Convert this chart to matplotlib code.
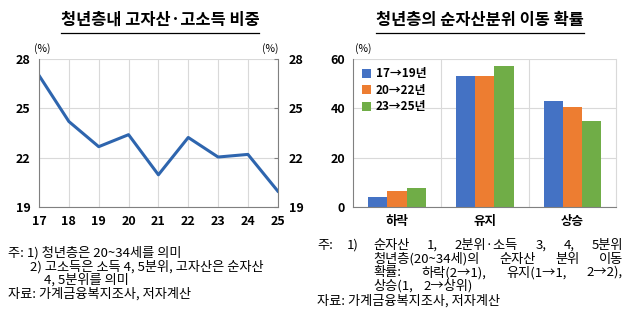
import matplotlib.pyplot as plt
from matplotlib.lines import Line2D

plt.rcParams['font.family'] = ['Noto Sans CJK KR', 'DejaVu Sans']

# left chart data
years = ['17', '18', '19', '20', '21', '22', '23', '24', '25']
share = [27.0, 24.2, 22.67, 23.4, 20.96, 23.23, 22.04, 22.2, 19.97]

# right chart data
moves = ['하락', '유지', '상승']
periods = ['17→19년', '20→22년', '23→25년']
prob_1719 = [4.1, 53.2, 43.0]
prob_2022 = [6.4, 53.1, 40.6]
prob_2325 = [7.9, 57.0, 35.0]
bar_colors = ['#4472C4', '#ED7D31', '#70AD47']

W, H = 640, 319
fig = plt.figure(figsize=(W / 100, H / 100), dpi=100)

grid_c = '#D9D9D9'
spine_c = '#808080'

# ---- left: line chart
ax1 = fig.add_axes([0.061, 0.351, 0.373, 0.464])
x = list(range(len(years)))
ax1.plot(x, share, color='#2E65AE', lw=2.2)
ax1.set_xlim(0, len(years) - 1)
ax1.set_ylim(19, 28)
ax1.set_yticks([19, 22, 25, 28])
ax1.set_xticks(x)
ax1.set_xticklabels(years, fontweight='bold', fontsize=9)
ax1.grid(True, color=grid_c, lw=0.8)
ax1.tick_params(axis='both', length=0, pad=6)
ax1.tick_params(axis='y', labelsize=9)
for lab in ax1.get_yticklabels():
    lab.set_fontweight('bold')
ax1.spines['top'].set_visible(False)
for s in ['left', 'right', 'bottom']:
    ax1.spines[s].set_color(spine_c)
ax1r = ax1.twinx()
ax1r.set_ylim(19, 28)
ax1r.set_yticks([19, 22, 25, 28])
ax1r.tick_params(axis='y', length=3, direction='in', color=spine_c, labelsize=9, pad=8)
for lab in ax1r.get_yticklabels():
    lab.set_fontweight('bold')
for s in ax1r.spines.values():
    s.set_visible(False)
fig.text(0.066, 0.836, '(%)', fontsize=7.5, ha='center')
fig.text(0.422, 0.836, '(%)', fontsize=7.5, ha='center')

# ---- right: grouped bars
ax2 = fig.add_axes([0.552, 0.351, 0.411, 0.464])
w = 0.22
xs = list(range(len(moves)))
for i, (vals, lab) in enumerate(zip([prob_1719, prob_2022, prob_2325], periods)):
    ax2.bar([p + (i - 1) * w for p in xs], vals, width=w, color=bar_colors[i], label=lab)
ax2.set_xlim(-0.5, 2.5)
ax2.set_ylim(0, 60)
ax2.set_yticks([0, 20, 40, 60])
ax2.set_xticks(xs)
ax2.set_xticklabels(moves, fontweight='bold', fontsize=9)
ax2.set_xticks([0.5, 1.5], minor=True)
ax2.grid(True, axis='y', color=grid_c, lw=0.8)
ax2.grid(True, axis='x', which='minor', color=grid_c, lw=0.8)
ax2.set_axisbelow(True)
ax2.tick_params(axis='both', which='both', length=0, pad=6)
ax2.tick_params(axis='y', labelsize=9)
for lab in ax2.get_yticklabels():
    lab.set_fontweight('bold')
ax2.spines['top'].set_visible(False)
ax2.spines['right'].set_color(grid_c)
for s in ['left', 'bottom']:
    ax2.spines[s].set_color(spine_c)
ax2.legend(loc='upper left', frameon=False, handlelength=0.8,
           handleheight=0.8, handletextpad=0.4, labelspacing=0.3,
           borderaxespad=0.3, prop={'weight': 'bold', 'size': 8.5})
fig.text(0.567, 0.836, '(%)', fontsize=7.5, ha='center')

renderer = fig.canvas.get_renderer()


# ---- titles with underline
def underlined_title(xc, y, s):
    t = fig.text(xc, y, s, ha='center', va='baseline', fontsize=11.8, fontweight='bold')
    bb = t.get_window_extent(renderer).transformed(fig.transFigure.inverted())
    fig.add_artist(Line2D([bb.x0, bb.x1], [y - 0.024, y - 0.024],
                          transform=fig.transFigure, color='black', lw=0.9))


underlined_title(0.25, 0.922, '청년층내 고자산·고소득 비중')
underlined_title(0.75, 0.922, '청년층의 순자산분위 이동 확률')

# ---- notes (pixel positions; right block is spread across the line like the source)
fs = 9.5


def put(px, py, s):
    fig.text(px / W, 1 - py / H, s, fontsize=fs, va='center')


def justify(words, px0, px1, py):
    texts = [fig.text(0, 1 - py / H, s, fontsize=fs, va='center') for s in words]
    widths = [t.get_window_extent(renderer).width for t in texts]
    gap = (px1 - px0 - sum(widths)) / max(len(words) - 1, 1)
    pos = px0
    for t, wd in zip(texts, widths):
        t.set_x(pos / W)
        pos += wd + gap


put(8, 253, '주: 1) 청년층은 20~34세를 의미')
put(30, 266.5, '2) 고소득은 소득 4, 5분위, 고자산은 순자산')
put(44, 280, '4, 5분위를 의미')
put(8, 294, '자료: 가계금융복지조사, 저자계산')

put(317, 245, '주:')
put(347, 245, '1)')
justify(['순자산', '1,', '2분위·소득', '3,', '4,', '5분위'], 373, 623, 245)
justify(['청년층(20~34세)의', '순자산', '분위', '이동'], 373, 623, 259)
justify(['확률:', '하락(2→1),', '유지(1→1,', '2→2),'], 373, 623, 272.5)
justify(['상승(1,', '2→상위)'], 373, 473, 286)
put(317, 301, '자료: 가계금융복지조사, 저자계산')

fig.savefig('out.png', dpi=100)
